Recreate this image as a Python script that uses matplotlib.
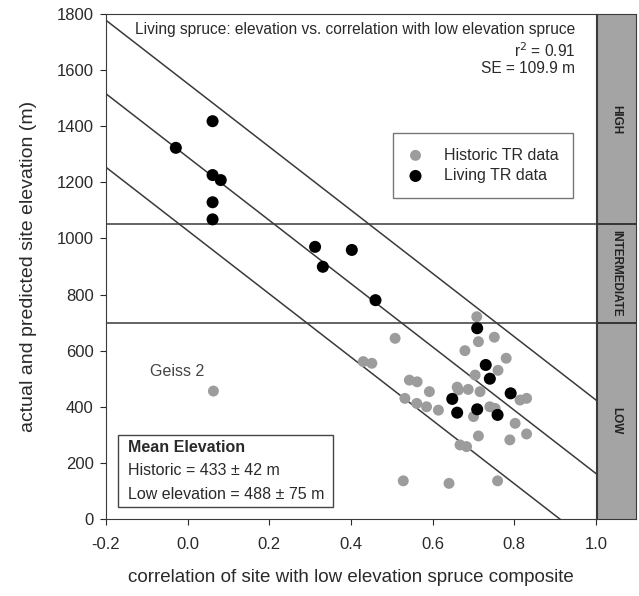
import matplotlib
matplotlib.use('Agg')
import matplotlib.pyplot as plt
from matplotlib.patches import Rectangle

plt.rcParams['font.family'] = ['Liberation Sans', 'DejaVu Sans']

# historic tree-ring sites (gray)
hist_x = [0.708, 0.508, 0.712, 0.751, 0.679, 0.780, 0.760, 0.704, 0.430, 0.451,
          0.543, 0.562, 0.592, 0.663, 0.687, 0.716, 0.063, 0.532, 0.561, 0.585,
          0.614, 0.830, 0.814, 0.753, 0.740, 0.700, 0.802, 0.830, 0.789, 0.712,
          0.667, 0.683, 0.528, 0.640, 0.759, 0.660]
hist_y = [721, 644, 632, 648, 600, 573, 530, 513, 561, 555,
          495, 489, 454, 460, 462, 454, 456, 430, 412, 400,
          388, 430, 424, 394, 400, 365, 341, 303, 282, 296,
          264, 258, 136, 127, 136, 470]

# living tree-ring sites (black)
live_x = [0.061, -0.029, 0.061, 0.081, 0.061, 0.061, 0.312, 0.402, 0.331, 0.460,
          0.709, 0.730, 0.740, 0.791, 0.648, 0.660, 0.709, 0.759]
live_y = [1418, 1323, 1226, 1208, 1129, 1068, 970, 959, 899, 780,
          680, 549, 500, 448, 428, 379, 391, 371]

# regression line and its band
fit_intercept = 1290
fit_slope = -1128
band = 262

# elevation zone limits
zone_limits = [700, 1050]
zone_names = ['LOW', 'INTERMEDIATE', 'HIGH']
zone_mid = [350, 875, 1425]

xticks = [-0.2, 0.0, 0.2, 0.4, 0.6, 0.8, 1.0]
yticks = [0, 200, 400, 600, 800, 1000, 1200, 1400, 1600, 1800]

txt = '#2a2a2a'
lc = '#3a3a3a'

fig = plt.figure(figsize=(6.39, 5.96), dpi=100)
ax = fig.add_axes([0.1659, 0.1292, 0.7668, 0.8473])
strip = fig.add_axes([0.9343, 0.1292, 0.061, 0.8473])

xs = [-0.2, 1.0]
for off in [band, 0, -band]:
    ax.plot(xs, [fit_intercept + fit_slope * x + off for x in xs], color=lc, lw=1.1, zorder=2)
for lim in zone_limits:
    ax.axhline(lim, color=lc, lw=1.1, zorder=2)

ax.scatter(hist_x, hist_y, s=62, color='#9c9c9c', edgecolors='none', zorder=3, label='Historic TR data')
ax.scatter(live_x, live_y, s=75, color='black', edgecolors='none', zorder=4, label='Living TR data')

ax.set_xlim(-0.2, 1.0)
ax.set_ylim(0, 1800)
ax.set_xticks(xticks)
ax.set_xticklabels(['%.1f' % t for t in xticks])
ax.set_yticks(yticks)
ax.tick_params(direction='out', length=4, labelsize=12, colors=txt)
ax.tick_params(axis='x', pad=9)
ax.tick_params(axis='y', pad=5)
for sp in ax.spines.values():
    sp.set_color(lc)
ax.set_xlabel('correlation of site with low elevation spruce composite', fontsize=13.5, color=txt, labelpad=12)
ax.set_ylabel('actual and predicted site elevation (m)', fontsize=14, color=txt, labelpad=14)

ax.text(0.949, 1743, 'Living spruce: elevation vs. correlation with low elevation spruce',
        ha='right', va='center', fontsize=11.2, color=txt)
ax.text(0.949, 1671, r'r$^2$ = 0.91', ha='right', va='center', fontsize=11.2, color=txt)
ax.text(0.949, 1604, 'SE = 109.9 m', ha='right', va='center', fontsize=11.2, color=txt)

ax.text(-0.092, 524, 'Geiss 2', ha='left', va='center', fontsize=11.5, color='#444')

leg = ax.legend(loc='upper left', bbox_to_anchor=(0.586, 0.764), frameon=True,
                fancybox=False, edgecolor='#555', fontsize=11.5, handlelength=1.0,
                handletextpad=1.3, labelspacing=0.35, borderpad=0.9, borderaxespad=0)
leg.get_frame().set_linewidth(1.0)
for t in leg.get_texts():
    t.set_color(txt)

ax.add_patch(Rectangle((0.0245, 0.024), 0.4385, 0.142, transform=ax.transAxes,
                       fill=False, edgecolor='#444', lw=1.0, zorder=5))
ax.text(0.045, 0.141, 'Mean Elevation', transform=ax.transAxes, fontsize=11.5,
        fontweight='bold', va='center', color=txt)
ax.text(0.045, 0.097, 'Historic = 433 \u00b1 42 m', transform=ax.transAxes, fontsize=11.5,
        va='center', color=txt)
ax.text(0.045, 0.048, 'Low elevation = 488 \u00b1 75 m', transform=ax.transAxes, fontsize=11.5,
        va='center', color=txt)

strip.set_facecolor('#a4a4a4')
strip.set_xlim(0, 1)
strip.set_ylim(0, 1800)
strip.set_xticks([])
strip.set_yticks([])
for sp in strip.spines.values():
    sp.set_color(lc)
for lim in zone_limits:
    strip.axhline(lim, color='#222', lw=1.2)
for name, y in zip(zone_names, zone_mid):
    strip.text(0.5, y, name, rotation=270, ha='center', va='center',
               fontsize=8.5, fontweight='bold', color='#222')

fig.savefig('out.png', dpi=100)
